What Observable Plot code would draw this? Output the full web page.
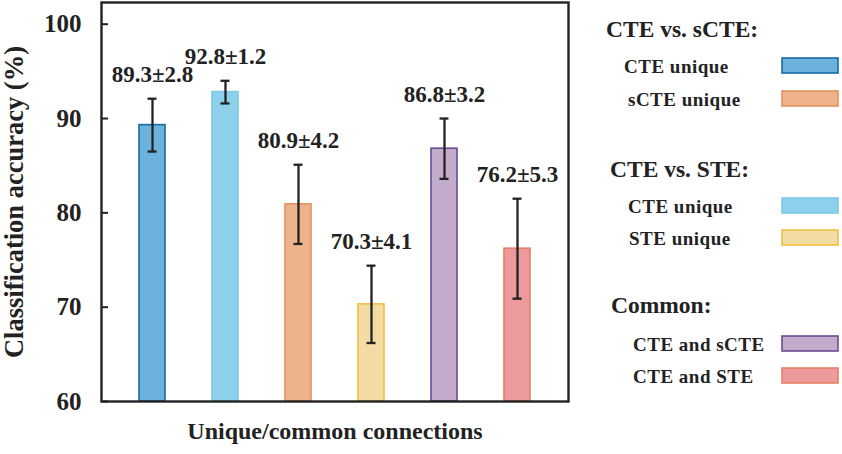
<!DOCTYPE html>
<html>
<head>
<meta charset="utf-8">
<script src="https://cdn.jsdelivr.net/npm/d3@7"></script>
<script src="https://cdn.jsdelivr.net/npm/@observablehq/plot@0.6"></script>
<style>
  html, body { margin: 0; padding: 0; background: #fff; }
  #wrap { position: relative; width: 842px; height: 454px; }
  #wrap svg { position: absolute; left: 0; top: 0; }
</style>
</head>
<body>
<div id="wrap"></div>
<script>
// ---- data ----
const categories = ["CTE unique (vs. sCTE)", "CTE unique (vs. STE)", "sCTE unique", "STE unique", "CTE and sCTE", "CTE and STE"];
const means = [89.3, 92.8, 80.9, 70.3, 86.8, 76.2];
const sds = [2.8, 1.2, 4.2, 4.1, 3.2, 5.3];
const fills = ["#6db2dc", "#8dd0ec", "#eeb28c", "#f3dca4", "#c3accb", "#ec9a9b"];
const strokes = ["#1a6aa8", "#7ec8ea", "#e4925e", "#f0c040", "#6a4c96", "#e48062"];
const yTicks = [60, 70, 80, 90, 100];
const yLabel = "Classification accuracy (%)";
const xLabel = "Unique/common connections";
const legendHeaders = ["CTE vs. sCTE:", "CTE vs. STE:", "Common:"];
const legendItems = [
  ["CTE unique", "sCTE unique"],
  ["CTE unique", "STE unique"],
  ["CTE and sCTE", "CTE and STE"]
];
const legendIndex = [[0, 2], [1, 3], [4, 5]];

const rows = categories.map((c, i) => ({
  cat: c, mean: means[i], sd: sds[i], lo: means[i] - sds[i], hi: means[i] + sds[i],
  fill: fills[i], stroke: strokes[i], label: `${means[i].toFixed(1)}±${sds[i].toFixed(1)}`
}));

const font = "'Liberation Serif', 'Times New Roman', serif";

const chart = Plot.plot({
  width: 842,
  height: 454,
  marginLeft: 101,
  marginRight: 274,
  marginTop: 2,
  marginBottom: 53,
  style: { fontFamily: font, fontWeight: "bold", fontSize: "23px", color: "#222", background: "transparent" },
  x: { domain: categories, paddingInner: 0.65, paddingOuter: 0.49, axis: null },
  y: { domain: [60, 102.3], ticks: yTicks, label: null },
  marks: [
    Plot.barY(rows, { x: "cat", y1: 60, y2: "mean", fill: "fill", stroke: "stroke", strokeWidth: 1.6 }),
    Plot.ruleX(rows, { x: "cat", y1: "lo", y2: "hi", stroke: "#222", strokeWidth: 2.3 }),
    Plot.tickY(rows, { x: "cat", y: "lo", stroke: "#222", strokeWidth: 2.3, insetLeft: 8.5, insetRight: 8.5 }),
    Plot.tickY(rows, { x: "cat", y: "hi", stroke: "#222", strokeWidth: 2.3, insetLeft: 8.5, insetRight: 8.5 }),
    Plot.text(rows, { x: "cat", y: "hi", text: "label", dy: -17, lineAnchor: "bottom", fill: "#222", fontSize: 23, fontWeight: "bold" }),
    Plot.axisY({ ticks: yTicks, tickSize: 0, tickPadding: 20, fontSize: 25, fontWeight: "bold", label: null }),
    Plot.ruleY(yTicks, { stroke: "#222", strokeWidth: 2, insetRight: 467 - 7 }),
    Plot.frame({ stroke: "#222", strokeWidth: 2.4 }),
    Plot.text([yLabel], { frameAnchor: "left", dx: -87, rotate: -90, textAnchor: "middle", fontSize: 26.5, fontWeight: "bold", fill: "#222" }),
    Plot.text([xLabel], { frameAnchor: "bottom", dy: 37, fontSize: 24, fontWeight: "bold", fill: "#222" })
  ]
});
document.getElementById("wrap").appendChild(chart);

// ---- legend (right side) ----
const headerBaselines = [37, 177, 313];
const headerX = [606, 610, 611];
const itemBaselines = [[73, 106], [213, 245], [351, 383]];
const itemX = [[624, 628], [628, 629], [633, 633]];

const leg = d3.select("#wrap").append("svg")
  .attr("width", 842).attr("height", 454)
  .style("font-family", font).style("font-weight", "bold").style("fill", "#222");

legendHeaders.forEach((h, g) => {
  leg.append("text").attr("x", headerX[g]).attr("y", headerBaselines[g])
    .attr("font-size", 23.5).text(h);
  legendItems[g].forEach((t, k) => {
    const idx = legendIndex[g][k];
    const b = itemBaselines[g][k];
    leg.append("text").attr("x", itemX[g][k]).attr("y", b)
      .attr("font-size", 19).attr("letter-spacing", 0.5).text(t);
    leg.append("rect").attr("x", 782).attr("y", b - 15).attr("width", 56).attr("height", 15)
      .attr("fill", fills[idx]).attr("stroke", strokes[idx]).attr("stroke-width", 1.6);
  });
});
</script>
</body>
</html>
